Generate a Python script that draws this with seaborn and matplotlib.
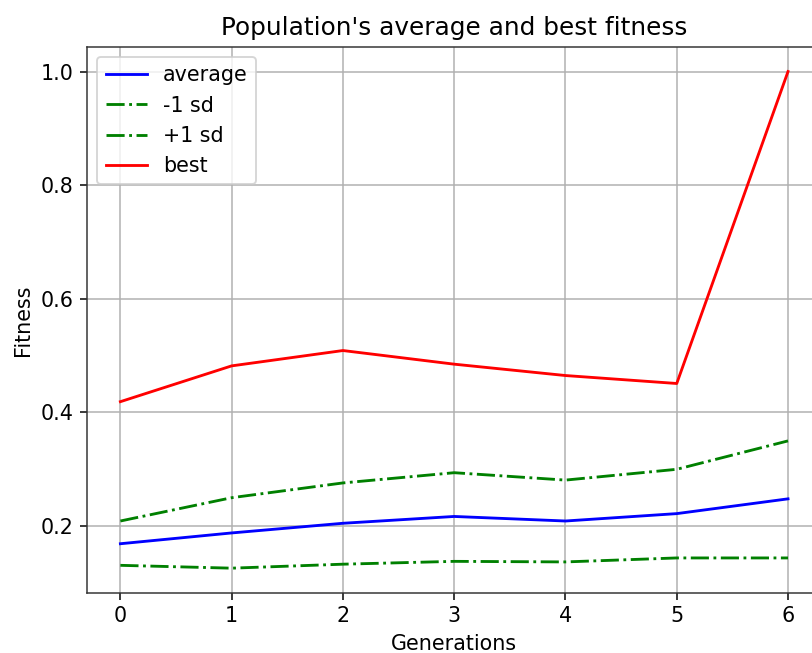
import matplotlib
matplotlib.use("Agg")
import matplotlib.pyplot as plt
import seaborn as sns
import pandas as pd

generations = [0, 1, 2, 3, 4, 5, 6]
average = [0.169, 0.188, 0.205, 0.217, 0.209, 0.222, 0.248]
minus_sd = [0.131, 0.126, 0.133, 0.138, 0.137, 0.144, 0.144]
plus_sd = [0.209, 0.250, 0.276, 0.294, 0.281, 0.300, 0.350]
best = [0.419, 0.482, 0.509, 0.485, 0.465, 0.451, 1.0]

plt.rcParams['font.family'] = ['DejaVu Sans']
plt.rcParams['font.size'] = 10.9
plt.rcParams['axes.titlesize'] = 13.1

DPI = 136
fig = plt.figure(figsize=(812 / DPI, 653 / DPI), dpi=DPI)
ax = fig.add_axes([87 / 812, 60 / 653, (821.4 - 87) / 812, (593 - 46.7) / 653])

df = pd.DataFrame({"gen": generations, "average": average, "-1 sd": minus_sd,
                   "+1 sd": plus_sd, "best": best})

sns.lineplot(data=df, x="gen", y="average", ax=ax, color="b", label="average")
sns.lineplot(data=df, x="gen", y="-1 sd", ax=ax, color="g", linestyle="-.", label="-1 sd")
sns.lineplot(data=df, x="gen", y="+1 sd", ax=ax, color="g", linestyle="-.", label="+1 sd")
sns.lineplot(data=df, x="gen", y="best", ax=ax, color="r", label="best")

ax.grid(True)
for s in ax.spines.values():
    s.set_edgecolor("#333333")
ax.set_title("Population's average and best fitness")
ax.set_xlabel("Generations")
ax.set_ylabel("Fitness")
ax.legend(loc="upper left")

fig.savefig("out.png", dpi=DPI)
